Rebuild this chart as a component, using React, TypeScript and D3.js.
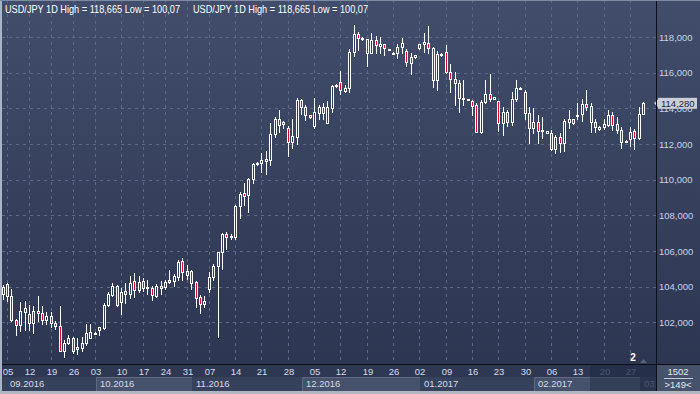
import React from 'react';
import * as d3 from 'd3';

// USD/JPY daily candles, 02.09.2016 .. 02.03.2017 (index 0 = first visible bar)
const opens = [
  103.6, 104.16, 103.49, 102.15, 101.87, 102.58, 102.46, 101.96, 102.66, 102.52,
  102.15, 102.37, 101.96, 101.81, 100.37, 100.84, 101.12, 100.48, 100.55, 100.84,
  101.12, 101.4, 101.55, 101.68, 102.98, 103.55, 104.05, 103.12, 103.77, 103.58,
  104.33, 103.83, 104.33, 103.9, 103.92, 103.5, 104.05, 104.0, 104.25, 104.3,
  104.55, 105.45, 104.9, 104.9, 104.25, 103.4, 103.05, 103.88, 104.54, 105.17,
  105.94, 106.95, 106.76, 106.8, 108.5, 109.28, 109.15, 110.03, 110.87, 110.95,
  111.05, 111.1, 112.56, 113.39, 113.1, 112.92, 112.1, 112.42, 114.47, 114.06,
  113.63, 113.03, 113.76, 114.06, 113.17, 114.0, 115.25, 115.46, 114.99, 115.16,
  117.14, 118.17, 117.9, 117.87, 117.09, 117.83, 117.5, 117.6, 117.3, 117.1,
  117.09, 117.46, 117.23, 116.86, 116.9, 117.37, 117.6, 117.68, 117.37, 115.6,
  117.03, 117.14, 116.02, 115.65, 115.4, 114.55, 114.5, 114.4, 114.2, 112.66,
  114.34, 114.79, 114.53, 114.41, 113.17, 113.78, 113.22, 114.53, 115.13, 114.94,
  113.73, 112.89, 113.22, 112.75, 112.73, 112.64, 111.73, 112.38, 112.05, 113.26,
  113.39, 113.55, 113.69, 114.25, 114.13, 113.26, 112.98, 112.94, 113.07, 113.63,
  113.12, 112.79, 112.1, 112.28, 112.73, 112.33, 113.69,
];
const highs = [
  104.1, 104.2, 103.87, 102.2, 103.12, 103.17, 102.95, 102.9, 103.45, 102.9,
  102.6, 102.6, 102.1, 102.9, 101.0, 101.3, 101.2, 101.1, 101.15, 101.9,
  101.9, 101.45, 101.73, 103.1, 103.7, 104.2, 104.1, 103.9, 104.2, 104.6,
  104.75, 104.6, 104.5, 104.35, 104.05, 104.15, 104.3, 104.4, 104.95, 104.7,
  105.5, 105.6, 105.2, 104.95, 104.3, 103.55, 103.5, 104.8, 105.25, 105.97,
  107.0, 107.05, 106.95, 108.6, 109.33, 109.8, 110.1, 110.95, 111.0, 111.48,
  111.6, 113.2, 113.5, 113.9, 113.3, 113.0, 113.4, 114.6, 114.5, 114.2,
  113.65, 114.6, 114.2, 114.3, 114.4, 115.3, 115.35, 116.1, 115.3, 117.3,
  118.665, 118.3, 118.0, 117.9, 118.24, 118.05, 118.0, 117.6, 117.35, 117.15,
  117.6, 117.96, 117.3, 117.1, 117.0, 117.6, 118.24, 118.62, 117.46, 117.2,
  117.1, 117.55, 116.5, 116.02, 115.6, 115.6, 114.55, 114.47, 114.3, 114.45,
  115.6, 115.9, 114.66, 114.41, 114.1, 113.9, 114.94, 115.6, 115.2, 115.03,
  114.1, 114.0, 113.6, 113.5, 112.73, 112.8, 112.5, 112.6, 113.4, 113.9,
  113.39, 114.3, 114.5, 115.0, 114.3, 113.4, 113.0, 113.4, 113.9, 113.8,
  113.5, 112.95, 112.25, 112.94, 112.83, 114.1, 114.37,
];
const lows = [
  103.3, 103.17, 102.05, 101.27, 101.49, 101.58, 101.58, 101.4, 102.05, 101.9,
  101.9, 101.75, 101.6, 100.37, 100.07, 100.8, 100.3, 100.2, 100.4, 100.75,
  101.1, 101.38, 101.3, 101.6, 102.9, 103.45, 102.9, 102.45, 103.1, 103.35,
  103.4, 103.7, 103.75, 103.6, 103.25, 103.4, 103.6, 103.85, 104.18, 104.05,
  104.4, 104.4, 104.45, 103.85, 102.85, 102.5, 102.85, 103.7, 104.35, 101.2,
  105.0, 106.1, 106.7, 106.7, 107.84, 108.6, 108.2, 109.8, 110.82, 110.45,
  110.3, 110.85, 112.4, 112.7, 112.9, 111.35, 111.8, 112.0, 113.7, 113.35,
  113.48, 112.9, 113.4, 113.4, 113.17, 113.8, 115.2, 114.8, 114.9, 114.9,
  116.95, 117.28, 117.85, 116.4, 117.09, 117.09, 117.1, 117.0, 117.25, 117.05,
  116.8, 117.09, 116.4, 115.9, 116.8, 117.3, 117.18, 117.09, 115.2, 115.0,
  116.95, 115.97, 114.9, 114.2, 113.8, 114.2, 114.45, 113.6, 112.66, 112.6,
  114.3, 114.4, 114.53, 112.73, 112.5, 113.0, 113.07, 114.41, 115.1, 113.4,
  112.04, 112.6, 112.04, 112.33, 112.6, 111.67, 111.5, 111.55, 111.6, 112.9,
  113.1, 113.4, 113.3, 113.9, 112.7, 112.7, 112.8, 112.83, 113.0, 112.8,
  112.6, 111.8, 112.1, 111.9, 111.7, 112.27, 113.69,
];
const closes = [
  104.0, 103.49, 102.11, 101.87, 102.62, 102.8, 101.96, 102.62, 102.52, 102.15,
  102.37, 101.96, 101.77, 100.37, 100.84, 101.12, 100.37, 100.6, 100.84, 101.4,
  101.43, 101.42, 101.73, 102.98, 103.6, 104.05, 102.98, 103.7, 103.58, 104.23,
  103.83, 104.26, 103.95, 104.0, 103.55, 104.05, 103.9, 104.25, 104.35, 104.6,
  105.4, 104.85, 104.65, 104.2, 103.36, 103.05, 103.2, 104.57, 105.17, 105.94,
  106.96, 106.76, 106.85, 108.5, 109.2, 109.1, 110.03, 110.88, 110.95, 111.1,
  111.15, 112.56, 113.39, 113.07, 113.25, 112.1, 112.45, 114.47, 114.1, 113.63,
  113.5, 113.78, 114.06, 113.76, 114.06, 115.25, 115.3, 115.03, 115.16, 117.14,
  118.17, 117.93, 117.95, 117.09, 117.83, 117.55, 117.6, 117.37, 117.33, 117.12,
  117.46, 117.65, 116.62, 116.56, 116.99, 117.6, 117.7, 117.37, 115.6, 117.03,
  117.05, 116.06, 115.65, 115.4, 114.57, 114.6, 114.55, 114.15, 112.66, 114.34,
  114.79, 114.53, 114.66, 113.17, 113.78, 113.26, 114.53, 115.13, 115.15, 113.73,
  112.89, 113.22, 112.73, 112.8, 112.6, 111.73, 112.38, 112.05, 113.31, 113.39,
  113.2, 113.62, 114.25, 114.1, 113.26, 112.94, 112.85, 113.12, 113.63, 113.07,
  112.79, 112.1, 112.17, 112.69, 112.33, 113.69, 114.28,
];

// week ticks (bar index of each Monday) and labels
const weekIndex = [1, 6, 11, 16, 21, 27, 32, 37, 42, 47, 53, 59, 65, 71, 77, 83, 89, 95, 101, 107, 113, 119, 125, 131, 137, 143];
const weekLabels = ['05', '12', '19', '26', '03', '10', '17', '24', '31', '07', '14', '21', '28', '05', '12', '19', '26', '02', '09', '16', '23', '30', '06', '13', '20', '27'];

const monthIndex = [-2, 21, 43, 68, 95, 121, 145];
const monthLabels = ['09.2016', '10.2016', '11.2016', '12.2016', '01.2017', '02.2017', '03.2017'];

const priceTicks = [102, 104, 106, 108, 110, 112, 114, 116, 118];

const W = 700;
const H = 394;
const plotRight = 656;
const axisY = 364;
const shadeStart = 590;

const fmt = (v: number, d = 3) => v.toFixed(d).replace('.', ',');

export default function App() {
  const x = d3.scaleLinear().domain([1, 143]).range([7, 630]);
  const y = d3.scaleLinear().domain([100, 118]).range([358, 37]);
  const last = closes[closes.length - 1];
  const font = '"Liberation Sans", Arial, sans-serif';

  return (
    <svg width={W} height={H} style={{ position: 'absolute', left: 0, top: 0 }} fontFamily={font}>
      <defs>
        <linearGradient id="bg" x1="0" y1="0" x2="0" y2="1">
          <stop offset="0%" stopColor="#414d6b" />
          <stop offset="100%" stopColor="#2b344f" />
        </linearGradient>
        <clipPath id="plot">
          <rect x={2} y={0} width={plotRight - 2} height={axisY} />
        </clipPath>
        <clipPath id="dates">
          <rect x={0} y={axisY} width={plotRight} height={H - axisY} />
        </clipPath>
      </defs>
      <rect x={0} y={0} width={W} height={H} fill="url(#bg)" />

      {/* grid */}
      <g stroke="#5b6886" strokeDasharray="3,4" strokeWidth={1}>
        {priceTicks.map(t => (
          <line key={t} x1={2} x2={plotRight} y1={Math.round(y(t)) + 0.5} y2={Math.round(y(t)) + 0.5} />
        ))}
        {weekIndex.map(i => (
          <line key={i} x1={Math.round(x(i)) + 0.5} x2={Math.round(x(i)) + 0.5} y1={0} y2={axisY} />
        ))}
      </g>

      {/* candles */}
      <g clipPath="url(#plot)">
        {closes.map((c, i) => {
          const o = opens[i];
          const cx = Math.round(x(i));
          const top = Math.round(y(Math.max(o, c)));
          const bot = Math.round(y(Math.min(o, c)));
          const up = c >= o;
          return (
            <g key={i}>
              <line x1={cx + 0.5} x2={cx + 0.5} y1={Math.round(y(highs[i]))} y2={Math.round(y(lows[i])) + 1} stroke="#ffffff" />
              <rect x={cx - 0.5} y={top + 0.5} width={2} height={Math.max(bot - top, 1)}
                fill={up ? '#323c58' : '#e3062c'} stroke="#ffffff" strokeWidth={1} />
            </g>
          );
        })}
      </g>

      {/* title */}
      <text x={5} y={13} fill="#ffffff" fontSize={10.5} textLength={175} lengthAdjust="spacingAndGlyphs">USD/JPY 1D High = 118,665 Low = 100,07</text>
      <text x={193} y={13} fill="#ffffff" fontSize={10.5} textLength={175} lengthAdjust="spacingAndGlyphs">USD/JPY 1D High = 118,665 Low = 100,07</text>

      {/* price axis */}
      {priceTicks.map(t => (
        <text key={t} x={659} y={y(t) + 3.5} fill="#c6d3ea" fontSize={9.5}>{fmt(t)}</text>
      ))}
      <polygon points={`654,${y(last)} 658,${y(last) - 4} 658,${y(last) + 4}`} fill="#c9ced8" />
      <rect x={658} y={y(last) - 5.5} width={39} height={11} fill="#c9ced8" />
      <text x={661} y={y(last) + 3.5} fill="#1c2436" fontSize={9.5}>{fmt(last)}</text>

      {/* date axis */}
      <rect x={0} y={axisY} width={W} height={H - axisY} fill="#2e3852" />
      <g clipPath="url(#dates)">
        {monthIndex.map((m, k) => {
          const x0 = Math.max(2, Math.round(x(m)) + 1);
          const x1 = k < monthIndex.length - 1 ? Math.round(x(monthIndex[k + 1])) + 1 : plotRight;
          const light = k % 2 === 1;
          return (
            <g key={k}>
              <rect x={x0} y={377} width={Math.max(0, Math.min(x1, plotRight) - x0)} height={14}
                fill={light ? '#46526b' : '#36415b'} />
              {light && (
                <path d={`M${x0 + 0.5},391 V${377.5} H${Math.min(x1, plotRight)}`} stroke="#5e6a84" fill="none" />
              )}
              <text x={Math.max(x0 + 4, 10)} y={387} fill={x0 >= shadeStart ? '#6f7a90' : '#d4dcea'} fontSize={9.5}>{monthLabels[k]}</text>
            </g>
          );
        })}
        {weekIndex.map((i, k) => (
          <text key={i} x={Math.round(x(i)) + 1} y={375} textAnchor="middle"
            fill={x(i) >= shadeStart ? '#6f7a90' : '#d4dcea'} fontSize={9.5}>{weekLabels[k]}</text>
        ))}
        <rect x={shadeStart} y={axisY} width={plotRight - shadeStart} height={27} fill="#1c2540" opacity={0.45} />
      </g>
      <text x={633} y={361} fill="#ffffff" fontSize={10} fontWeight="bold" textAnchor="middle">2</text>
      <polygon points={`640,363 643.5,359 647,363`} fill="#59627a" />

      {/* corner box */}
      <rect x={plotRight} y={axisY} width={W - plotRight} height={27} fill="#46526b" />
      <text x={678} y={375} fill="#e4e9f2" fontSize={9.5} textAnchor="middle">1502</text>
      <line x1={664} x2={693} y1={378.5} y2={378.5} stroke="#c3cad8" />
      <text x={678} y={388} fill="#e4e9f2" fontSize={9.5} textAnchor="middle">&gt;149&lt;</text>

      {/* frame */}
      <line x1={0} x2={W} y1={axisY + 0.5} y2={axisY + 0.5} stroke="#0c0f18" />
      <line x1={plotRight + 0.5} x2={plotRight + 0.5} y1={0} y2={391} stroke="#0c0f18" />
      <rect x={0} y={0} width={2} height={H} fill="#a9b4c6" />
      <rect x={0} y={391} width={W} height={3} fill="#aeb6c4" />
      <rect x={0} y={0} width={W} height={1} fill="#7f8ba3" />
    </svg>
  );
}
